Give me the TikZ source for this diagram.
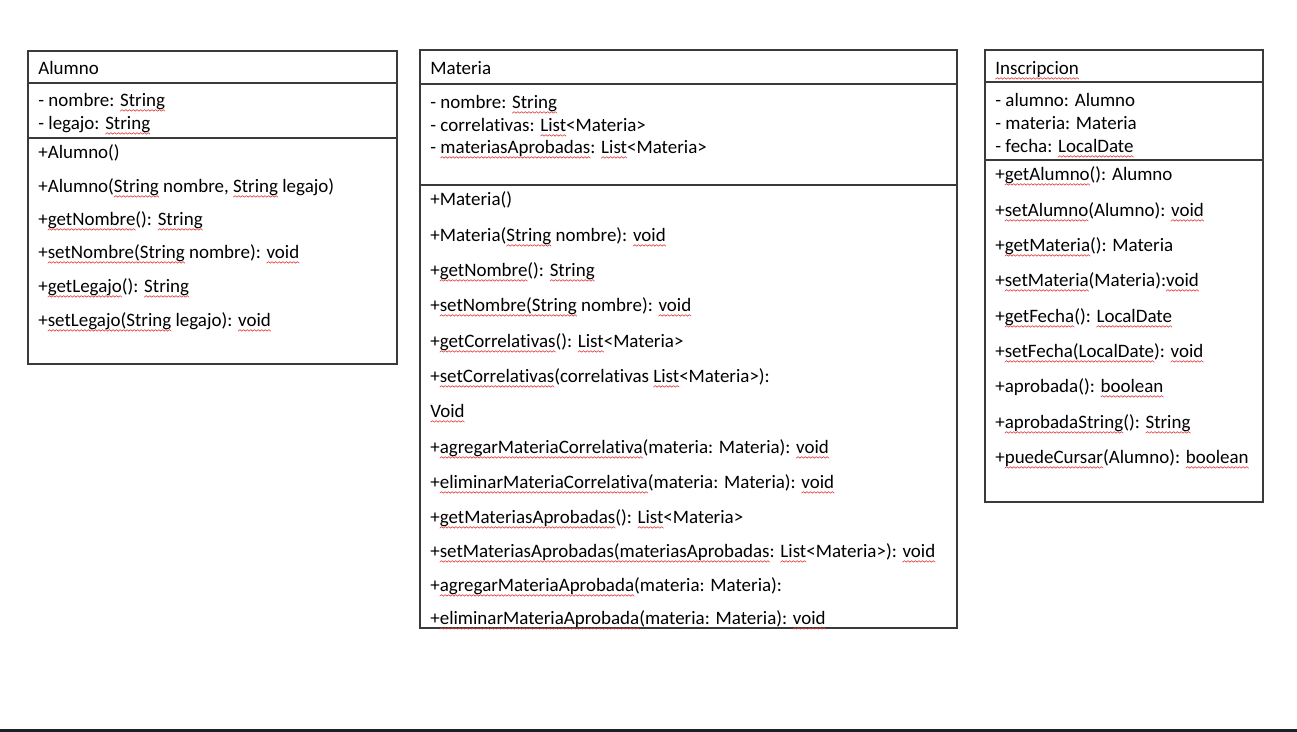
\documentclass[tikz,border=0pt]{standalone}
\usepackage{fontspec}
\setmainfont{Carlito}[Ligatures=NoCommon]

\definecolor{boxline}{HTML}{3A3A3A}
\definecolor{squig}{HTML}{E03C3C}
\definecolor{barline}{HTML}{1B2026}

% red wavy underline, like a spell checker
\newbox\wavebox
\newsavebox\splbox
\newcommand\spl[1]{\sbox\splbox{#1}%
    \rlap{\lower2.2pt\hbox to\wd\splbox{\xleaders\copy\wavebox\hfil}}\usebox\splbox}

\begin{document}
\begin{tikzpicture}[
        x = 0.02cm, y = -0.02cm, % one unit per pixel
        box/.style = {draw=boxline, line width=0.9pt}, % class frame
        member/.style = {anchor=base west, inner sep=0pt, yshift=-0.03cm,
            font=\fontsize{10.8}{13}\selectfont}, % one text line
    ]
    \pgfinterruptpicture
    \global\setbox\wavebox=\hbox{\tikz[x=1pt,y=1pt,baseline=0pt]{%
        \useasboundingbox (0,-0.5) rectangle (2,0.5);
        \draw[squig, line width=0.35pt, line cap=round] (0,-0.4) -- (1,0.4) -- (2,-0.4);}}%
    \endpgfinterruptpicture
    \useasboundingbox (0,0) rectangle (1297,732);

    % Alumno
    \draw[box] (28,51) rectangle (397,364);
    \draw[box] (28,83) -- (397,83);
    \draw[box] (28,138) -- (397,138);
    \node[member] (al-name) at (38,73) {Alumno};
    \node[member] (al-a1) at (38,105) {- nombre: \spl{String}};
    \node[member] (al-a2) at (38,128) {- legajo: \spl{String}};
    \node[member] (al-m1) at (38,157) {+Alumno()};
    \node[member] (al-m2) at (38,191) {+Alumno(\spl{String} nombre, \spl{String} legajo)};
    \node[member] (al-m3) at (38,224) {+\spl{getNombre}(): \spl{String}};
    \node[member] (al-m4) at (38,257) {+\spl{setNombre(String} nombre): \spl{void}};
    \node[member] (al-m5) at (38,291) {+\spl{getLegajo}(): \spl{String}};
    \node[member] (al-m6) at (38,325) {+\spl{setLegajo(String} legajo): \spl{void}};

    % Materia
    \draw[box] (420,50) rectangle (957,628);
    \draw[box] (420,84) -- (957,84);
    \draw[box] (420,185) -- (957,185);
    \node[member] (ma-name) at (430,73) {Materia};
    \node[member] (ma-a1) at (430,107) {- nombre: \spl{String}};
    \node[member] (ma-a2) at (430,130) {- correlativas: \spl{List}<Materia>};
    \node[member] (ma-a3) at (430,152) {- \spl{materiasAprobadas}: \spl{List}<Materia>};
    \node[member] (ma-m1) at (430,204) {+Materia()};
    \node[member] (ma-m2) at (430,240) {+Materia(\spl{String} nombre): \spl{void}};
    \node[member] (ma-m3) at (430,275) {+\spl{getNombre}(): \spl{String}};
    \node[member] (ma-m4) at (430,310) {+\spl{setNombre(String} nombre): \spl{void}};
    \node[member] (ma-m5) at (430,346) {+\spl{getCorrelativas}(): \spl{List}<Materia>};
    \node[member] (ma-m6) at (430,381) {+\spl{setCorrelativas}(correlativas \spl{List}<Materia>):};
    \node[member] (ma-m7) at (430,416) {\spl{Void}};
    \node[member] (ma-m8) at (430,452) {+\spl{agregarMateriaCorrelativa}(materia: Materia): \spl{void}};
    \node[member] (ma-m9) at (430,487) {+\spl{eliminarMateriaCorrelativa}(materia: Materia): \spl{void}};
    \node[member] (ma-m10) at (430,522) {+\spl{getMateriasAprobadas}(): \spl{List}<Materia>};
    \node[member] (ma-m11) at (430,556) {+\spl{setMateriasAprobadas(materiasAprobadas}: \spl{List}<Materia>): \spl{void}};
    \node[member] (ma-m12) at (430,590) {+\spl{agregarMateriaAprobada}(materia: Materia):};
    \node[member] (ma-m13) at (430,623) {+\spl{eliminarMateriaAprobada}(materia: Materia): \spl{void}};

    % Inscripcion
    \draw[box] (985,50) rectangle (1263,502);
    \draw[box] (985,82) -- (1263,82);
    \draw[box] (985,160) -- (1263,160);
    \node[member] (in-name) at (995,73) {\spl{Inscripcion}};
    \node[member] (in-a1) at (995,105) {- alumno: Alumno};
    \node[member] (in-a2) at (995,128) {- materia: Materia};
    \node[member] (in-a3) at (995,151) {- fecha: \spl{LocalDate}};
    \node[member] (in-m1) at (995,179) {+\spl{getAlumno}(): Alumno};
    \node[member] (in-m2) at (995,215) {+\spl{setAlumno}(Alumno): \spl{void}};
    \node[member] (in-m3) at (995,250) {+\spl{getMateria}(): Materia};
    \node[member] (in-m4) at (995,285) {+\spl{setMateria}(Materia):\spl{void}};
    \node[member] (in-m5) at (995,321) {+\spl{getFecha}(): \spl{LocalDate}};
    \node[member] (in-m6) at (995,356) {+\spl{setFecha(LocalDate}): \spl{void}};
    \node[member] (in-m7) at (995,391) {+aprobada(): \spl{boolean}};
    \node[member] (in-m8) at (995,427) {+\spl{aprobadaString}(): \spl{String}};
    \node[member] (in-m9) at (995,462) {+\spl{puedeCursar}(Alumno): \spl{boolean}};

    % dark edge at the bottom
    \fill[barline] (0,729) rectangle (1297,732);
\end{tikzpicture}
\end{document}
